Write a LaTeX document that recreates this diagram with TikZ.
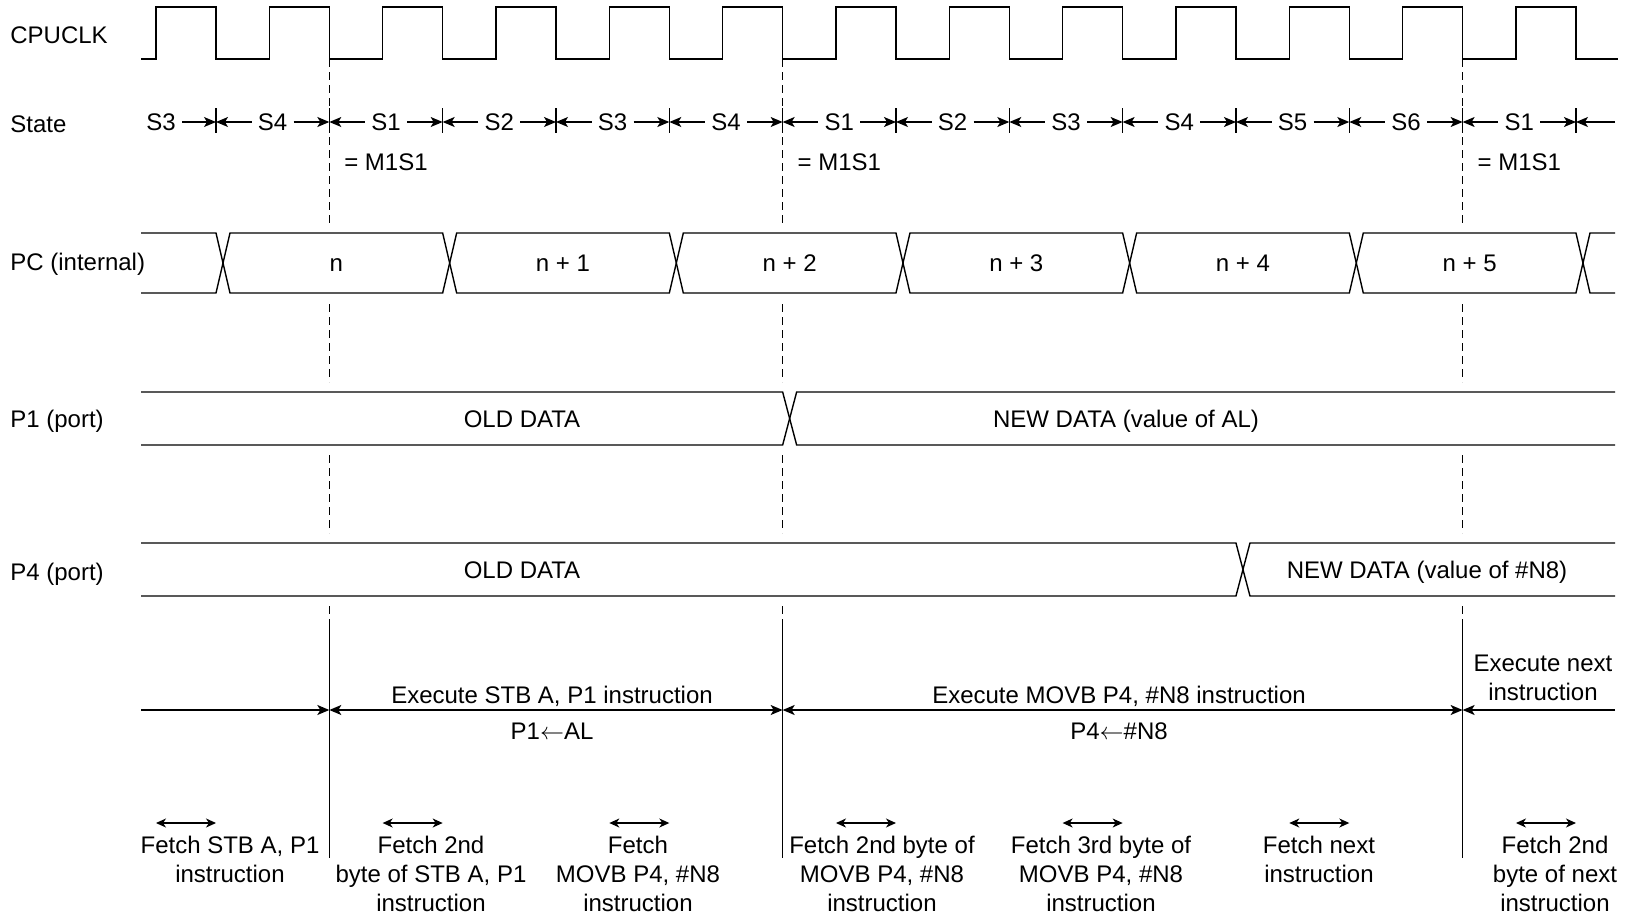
\documentclass[tikz,border=0pt]{standalone}
\usepackage{fontspec}
\setmainfont{Liberation Sans}
\usepackage{tikz}
\usetikzlibrary{positioning,arrows.meta,calc}

\newcommand{\clkT}{113.33} % clock period (px)
\newcommand{\clkO}{216}    % first falling edge (px)

\tikzset{
  sig/.style={line width=0.7pt, line join=miter},
  guide/.style={line width=0.6pt, dash pattern=on 4pt off 2.5pt},
  sigtxt/.style={anchor=west, inner sep=0pt, text height=8.6pt, text depth=0pt},
  celltxt/.style={inner sep=0pt, text height=8.6pt, text depth=0pt, align=center},
  mltxt/.style={inner sep=0pt, align=center, anchor=north},
  stxt/.style={inner xsep=3pt, inner ysep=0pt, text height=8.6pt, text depth=0pt},
  sarr/.style={-{Stealth[length=6pt,width=5pt,inset=1.5pt]}, line width=0.6pt},
  xarr/.style={-{Stealth[length=6pt,width=5pt,inset=1.5pt]}, line width=0.7pt},
  xarrs/.style={{Stealth[length=6pt,width=5pt,inset=1.5pt]}-{Stealth[length=6pt,width=5pt,inset=1.5pt]}, line width=0.7pt},
  span/.style={{Stealth[length=5pt,width=4.5pt,inset=1.5pt]}-{Stealth[length=5pt,width=4.5pt,inset=1.5pt]}, line width=0.6pt}
}

\begin{document}
\begin{tikzpicture}[x=0.5pt, y=-0.5pt, font=\fontsize{12}{14.5}\selectfont]
\useasboundingbox (0,0) rectangle (1630,917);

% signal names
\node[sigtxt] (nclk) at (10,35) {CPUCLK};
\node[sigtxt] (nst) at (10,124) {State};
\node[sigtxt] (npc) at (10,262) {PC (internal)};
\node[sigtxt] (np1) at (10,419) {P1 (port)};
\node[sigtxt] (np4) at (10,572) {P4 (port)};

% clock
\draw[sig] (141,59) \foreach \k in {0,...,12}{
    -- ({\clkO+\k*\clkT-60},59) |- ({\clkO+\k*\clkT},7) -- ({\clkO+\k*\clkT},59)
  } -- (1618,59);

% states
\foreach \k in {0,...,12} {
  \coordinate (b\k) at ({\clkO+\k*\clkT},122);
  \draw[sig, line width=0.6pt] ({\clkO+\k*\clkT},108) -- ({\clkO+\k*\clkT},133);
}
\node[stxt] (st0) at (161,122) {S3};
\draw[sarr] (st0.east) -- (b0);
\foreach \s [count=\i] in {S4,S1,S2,S3,S4,S1,S2,S3,S4,S5,S6,S1} {
  \pgfmathtruncatemacro\j{\i-1}
  \node[stxt] (st\i) at ({\clkO+(\i-0.5)*\clkT},122) {\s};
  \draw[sarr] (st\i.west) -- (b\j);
  \draw[sarr] (st\i.east) -- (b\i);
}
\coordinate (bend) at (1615,122);
\draw[sarr] (bend) -- (b12);

\node[celltxt, below=10.9pt of st2] (m1a) {= M1S1};
\node[celltxt, below=10.9pt of st6] (m1b) {= M1S1};
\node[celltxt, below=10.9pt of st12] (m1c) {= M1S1};

% machine cycle boundaries
\foreach \k in {1,5,11} {
  \pgfmathsetmacro\gx{\clkO+\k*\clkT}
  \draw[guide] (\gx,59) -- (\gx,224) (\gx,304) -- (\gx,382)
               (\gx,455) -- (\gx,533) (\gx,606) -- (\gx,621);
  \draw[sig] (\gx,621) -- (\gx,858);
}

% PC
\draw[sig] (141,233) -- (216,233) -- (223,263) -- (216,293) -- (141,293);
\foreach \v [count=\j from 0] in {n, n + 1, n + 2, n + 3, n + 4, n + 5} {
  \pgfmathsetmacro\ca{\clkO+2*\j*\clkT+14}
  \pgfmathsetmacro\cb{\clkO+(2*\j+2)*\clkT}
  \draw[sig] (\ca,233) -- (\cb,233) -- ({\cb+7},263) -- (\cb,293)
    -- (\ca,293) -- ({\ca-7},263) -- cycle;
  \node[celltxt] (pc\j) at ({(\ca+\cb)/2},263) {\v};
}
\draw[sig] (1615,233) -- (1590,233) -- (1583,263) -- (1590,293) -- (1615,293);

% P1
\pgfmathsetmacro\ta{\clkO+5*\clkT}
\draw[sig] (141,392) -- (\ta,392) -- ({\ta+14},445) -- (1615,445);
\draw[sig] (141,445) -- (\ta,445) -- ({\ta+14},392) -- (1615,392);
\node[celltxt] (p1old) at (522,419) {OLD DATA};
\node[celltxt] (p1new) at (1126,419) {NEW DATA (value of AL)};

% P4
\pgfmathsetmacro\tb{\clkO+9*\clkT}
\draw[sig] (141,543) -- (\tb,543) -- ({\tb+14},596) -- (1615,596);
\draw[sig] (141,596) -- (\tb,596) -- ({\tb+14},543) -- (1615,543);
\node[celltxt] (p4old) at (522,570) {OLD DATA};
\node[celltxt] (p4new) at (1427,570) {NEW DATA (value of \#N8)};

% execution
\coordinate (x0) at (141,710);
\coordinate (x1) at ({\clkO+\clkT},710);
\coordinate (x2) at ({\clkO+5*\clkT},710);
\coordinate (x3) at ({\clkO+11*\clkT},710);
\coordinate (x4) at (1615,710);
\draw[xarr] (x0) -- (x1);
\draw[xarrs] (x1) -- (x2);
\draw[xarrs] (x2) -- (x3);
\draw[xarr] (x4) -- (x3);

\node[celltxt] (ex1) at (552,695) {Execute STB A, P1 instruction};
\node[celltxt, below=8.9pt of ex1] (op1) {P1$\leftarrow$AL};
\node[celltxt] (ex2) at (1119,695) {Execute MOVB P4, \#N8 instruction};
\node[celltxt, below=8.9pt of ex2] (op2) {P4$\leftarrow$\#N8};
\node[mltxt] (ex3) at (1543,654.5) {Execute next\\instruction};

% fetches
\foreach \k in {0,2,...,12}
  \draw[span] ({\clkO+\k*\clkT-60},823) -- ({\clkO+\k*\clkT},823);

\node[mltxt] (f0) at (230,836) {Fetch STB A, P1\\instruction};
\node[mltxt] (f1) at (431,836) {Fetch 2nd\\byte of STB A, P1\\instruction};
\node[mltxt] (f2) at (638,836) {Fetch\\MOVB P4, \#N8\\instruction};
\node[mltxt] (f3) at (882,836) {Fetch 2nd byte of\\MOVB P4, \#N8\\instruction};
\node[mltxt] (f4) at (1101,836) {Fetch 3rd byte of\\MOVB P4, \#N8\\instruction};
\node[mltxt] (f5) at (1319,836) {Fetch next\\instruction};
\node[mltxt] (f6) at (1555,836) {Fetch 2nd\\byte of next\\instruction};
\end{tikzpicture}
\end{document}
